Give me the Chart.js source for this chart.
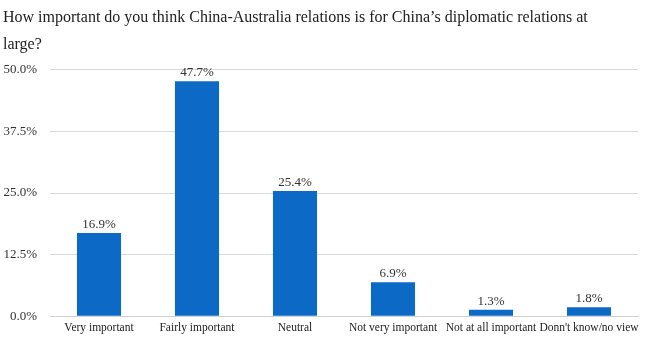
<!DOCTYPE html>
<html>
<head>
<meta charset="utf-8">
<script src="https://cdn.jsdelivr.net/npm/chart.js@4"></script>
<style>
  body { margin: 0; background: #fff; }
  #wrap { width: 650px; height: 340px; }
</style>
</head>
<body>
<div id="wrap"><canvas id="chart"></canvas></div>
<script>
const categories = [
  "Very important",
  "Fairly important",
  "Neutral",
  "Not very important",
  "Not at all important",
  "Donn't know/no view",
];
const shares = [16.9, 47.7, 25.4, 6.9, 1.3, 1.8];
const titleLines = [
  "How important do you think China-Australia relations is for China\u2019s diplomatic relations at",
  "large?",
];

const serif = "'Liberation Serif', 'DejaVu Serif', serif";

// draws the value above each bar
const barLabels = {
  id: "barLabels",
  afterDatasetsDraw(chart) {
    const { ctx } = chart;
    const meta = chart.getDatasetMeta(0);
    ctx.save();
    ctx.font = "13px " + serif;
    ctx.fillStyle = "#333";
    ctx.textAlign = "center";
    ctx.textBaseline = "bottom";
    meta.data.forEach((bar, i) => {
      ctx.fillText(shares[i].toFixed(1) + "%", bar.x, bar.y - 2);
    });
    ctx.restore();
  },
};

new Chart(document.getElementById("chart"), {
  type: "bar",
  data: {
    labels: categories,
    datasets: [
      {
        data: shares,
        backgroundColor: "#0c6ac6",
        barPercentage: 0.9,
        categoryPercentage: 0.5,
      },
    ],
  },
  options: {
    responsive: true,
    maintainAspectRatio: false,
    animation: false,
    layout: { padding: { left: 3, right: 12, top: 0, bottom: 0 } },
    scales: {
      y: {
        min: 0,
        max: 50,
        afterFit: (scale) => {
          scale.width = 47;
        },
        ticks: {
          stepSize: 12.5,
          padding: 13,
          color: "#333",
          font: { family: serif, size: 13 },
          callback: (v) => v.toFixed(1) + "%",
        },
        grid: { color: "#d9d9d9", drawTicks: false, tickLength: 0 },
        border: { display: false },
      },
      x: {
        ticks: {
          color: "#222",
          padding: 5,
          maxRotation: 0,
          autoSkip: false,
          font: { family: serif, size: 11.5 },
        },
        grid: { display: false, drawTicks: false, tickLength: 0 },
        border: { color: "#d0d0d0" },
      },
    },
    plugins: {
      legend: { display: false },
      tooltip: { enabled: false },
      title: {
        display: true,
        text: titleLines,
        align: "start",
        color: "#222",
        font: { family: serif, size: 16, weight: "normal", lineHeight: 1.65 },
        padding: { top: 5, bottom: 12 },
      },
    },
  },
  plugins: [barLabels],
});
</script>
</body>
</html>
